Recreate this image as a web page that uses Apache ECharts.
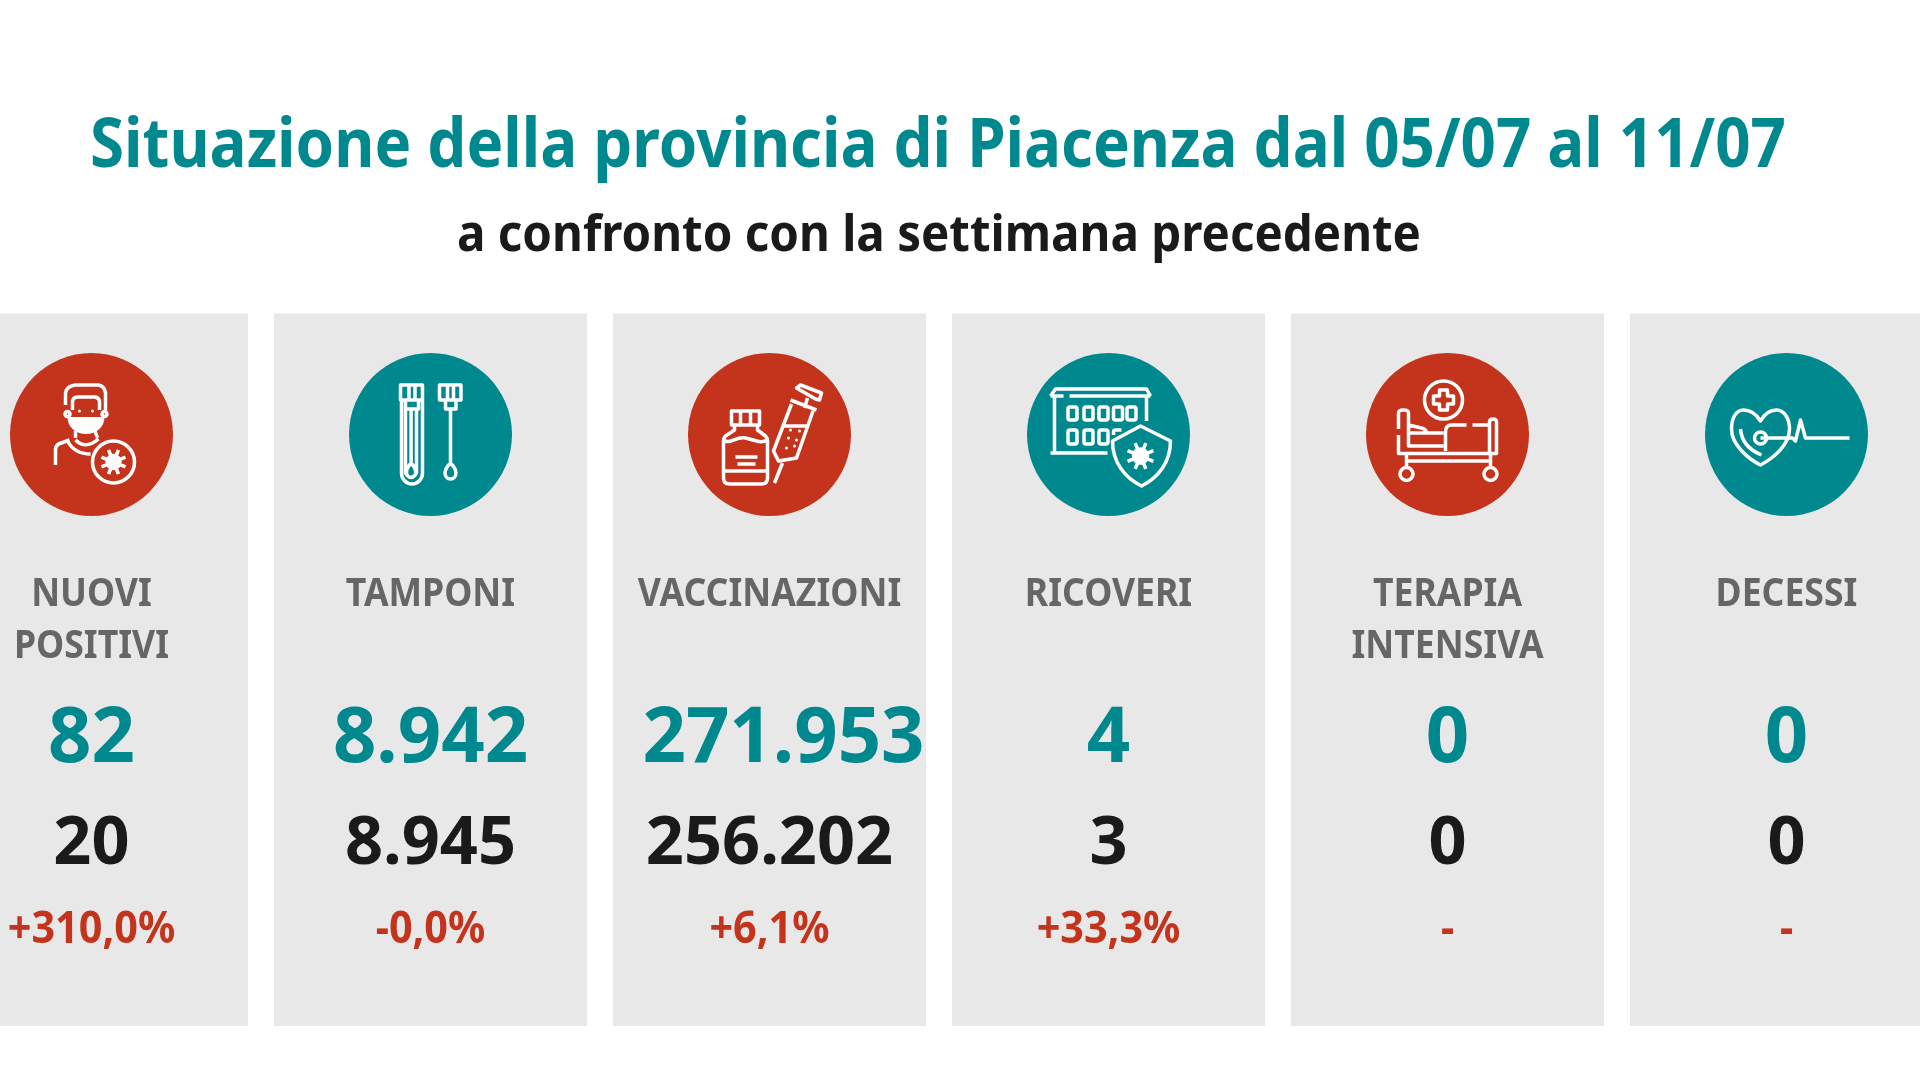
<!DOCTYPE html>
<html>
<head>
<meta charset="utf-8">
<title>Situazione della provincia di Piacenza</title>
<script src="https://cdn.jsdelivr.net/npm/echarts@6/dist/echarts.min.js"></script>
<style>
html,body{margin:0;padding:0;background:#fff;}
#main{width:1920px;height:1080px;}
</style>
</head>
<body>
<div id="main"></div>
<script>
var titleText = 'Situazione della provincia di Piacenza dal 05/07 al 11/07';
var subtitleText = 'a confronto con la settimana precedente';
var categories = ['NUOVI\nPOSITIVI', 'TAMPONI', 'VACCINAZIONI', 'RICOVERI', 'TERAPIA\nINTENSIVA', 'DECESSI'];
var currentWeek = [82, 8942, 271953, 4, 0, 0];
var previousWeek = [20, 8945, 256202, 3, 0, 0];
var changeLabels = ['+310,0%', '-0,0%', '+6,1%', '+33,3%', '-', '-'];

var RED = '#c4341c', TEAL = '#00888f', GREY = '#666666', DARK = '#1a1a1a', PANEL = '#e8e8e8';
var FONT = '"Noto Sans", sans-serif';

// cerchio in formato path svg
function circ(cx, cy, r) {
	return 'M' + (cx - r) + ' ' + cy + 'A' + r + ' ' + r + ' 0 1 0 ' + (cx + r) + ' ' + cy +
		'A' + r + ' ' + r + ' 0 1 0 ' + (cx - r) + ' ' + cy + 'Z';
}
// virus: cerchio con otto punte
function virus(cx, cy, r, len) {
	var s = circ(cx, cy, r);
	for (var k = 0; k < 8; k++) {
		var a = k * Math.PI / 4 + Math.PI / 8;
		s += 'M' + (cx + r * Math.cos(a)) + ' ' + (cy + r * Math.sin(a)) +
			'L' + (cx + len * Math.cos(a)) + ' ' + (cy + len * Math.sin(a));
	}
	return s;
}
function roundBox(x, y, w, h, r) {
	return 'M' + (x + r) + ' ' + y + 'H' + (x + w - r) + 'Q' + (x + w) + ' ' + y + ' ' + (x + w) + ' ' + (y + r) +
		'V' + (y + h - r) + 'Q' + (x + w) + ' ' + (y + h) + ' ' + (x + w - r) + ' ' + (y + h) +
		'H' + (x + r) + 'Q' + x + ' ' + (y + h) + ' ' + x + ' ' + (y + h - r) +
		'V' + (y + r) + 'Q' + x + ' ' + y + ' ' + (x + r) + ' ' + y + 'Z';
}
// i punti zero-length fissano il riquadro 162x162 del path
var BOX = 'M0 0L0 0M162 162L162 162';

var iconStroke = [
	// persona con mascherina
	'M55 52V40Q56 33 65 32H88Q94 33 95 40V57M62 57V48Q63 44 67 44H84Q88 44 89 48V57' +
	circ(57, 61, 2.5) + circ(94, 61, 2.5) +
	'M65 78V85M84.5 78L87 85M57 88Q64 101 80 101M65 87Q75 97 88 86M59 87L48 91Q45 93 45 97V112' +
	circ(103, 109, 21) + virus(103, 109, 6.5, 13),
	// provetta e tampone
	'M51 32H73V47H51ZM59.5 32V47M65.5 32V47M56 47H69V56H56ZM52 47V120A10.5 11 0 0 0 73 120V47' +
	'M56 56V120A6 7 0 0 0 67 120V56M61.6 56V110M61.6 110C58 114 57 117 57 119A4.6 5.5 0 0 0 66.2 119C66.2 117 65 114 61.6 110Z' +
	'M90 32H111.5V47H90ZM98 32V47M104 32V47M96 47H106.5V56H96ZM101 56V110M101 110C97 114 95.5 117 95.5 120A5.5 6 0 0 0 106.5 120C106.5 117 105 114 101 110Z',
	// flacone e siringa
	'M43 58H71V72H43ZM52 58V72M62 58V72M46 72V77L37 83Q35 85 35 88V125Q35 131 41 131H73Q79 131 79 125V88Q79 85 77 83L69 77V72' +
	'M35 87C42 92 47 83 57 85C66 87 72 91 79 87M35 118H79M47 104H69M49 111H67' +
	'M108 35L112 32L133 40L131 47L127 46ZM119 45L116 55M102 47L128 57M103 51L85 98L90 108L108 105L124.5 58' +
	'M94 73L118 73M94 110L86 130',
	// ospedale e scudo
	'M23 43L28 36H119L123 43M23 43H36M42 43H123M27 43V100M119 43V68M23 100H80' +
	roundBox(40.5, 54, 9, 13, 2) + roundBox(56.5, 54, 9, 13, 2) + roundBox(71.5, 54, 9, 13, 2) +
	roundBox(86, 54, 9, 13, 2) + roundBox(99.5, 54, 9, 13, 2) +
	roundBox(40.5, 77, 9, 14, 2) + roundBox(56.5, 77, 9, 14, 2) + roundBox(71.5, 77, 9, 14, 2) +
	'M86 82V79Q86 77 88 77H94' +
	'M113 73L143 88C143 110 130 125 114 133C98 125 85 110 85 88Z' + virus(113, 103, 7, 14),
	// letto di terapia intensiva
	circ(77, 47, 19) + 'M73 37H81V43H87V51H81V57H73V51H67V43H73Z' +
	'M32 76V60Q32 57 37 57Q42 57 42 60V93H77M32 82V100.5H130V69Q130 66 126.5 66Q123 66 123 69V100' +
	'M79 98V79Q79 72 85 72H100M106 72H122M42 80H77M42 72L55 75Q59 76 60 79' +
	'M40 100.5V115M124 100.5V115M40 108H124' + circ(40, 121, 6.5) + circ(124, 121, 6.5),
	// cuore e tracciato
	'M55 68C50 60 44 57 38 57C30 57 26 66 26 76C26 92 43 106 55 112C68 105 84 92 84 76C84 66 79 57 71 57C64 57 59 61 55 68Z' +
	'M35 76C36 89 44 97 56 102' + circ(55, 85, 6) +
	'M55 85H87L90 88L95 67L100 85H144'
];
var iconFill = ['M57 64H94C94 74 86 81 75.5 81C65 81 57 74 57 64Z' + circ(69, 58, 1.5) + circ(82, 58, 1.5) + circ(103, 109, 6.5),
	'', circ(102, 77, 1.5) + circ(111, 78, 1.5) + circ(100, 85, 1.5) + circ(108, 87, 1.5) + circ(98, 95, 1.5) + circ(106, 93, 1.5),
	circ(113, 103, 7), '', ''];

function formatIt(v) {
	return String(v).replace(/\B(?=(\d{3})+(?!\d))/g, '.');
}

function textEl(str, x, y, size, color, scaleX) {
	return {
		type: 'text', x: x, y: y, scaleX: scaleX, silent: true,
		style: {text: str, fill: color, align: 'center', verticalAlign: 'middle',
			font: '700 ' + size + 'px ' + FONT}
	};
}

function renderCard(params, api) {
	var i = api.value(0);
	var cx = api.coord([i, 0])[0];
	var top = api.coord([i, 0])[1];
	var color = i % 2 === 0 ? RED : TEAL;
	var children = [
		{type: 'rect', shape: {x: cx - 156.5, y: top + 313.5, width: 313, height: 712.5}, style: {fill: PANEL}},
		{type: 'circle', shape: {cx: cx, cy: top + 434.5, r: 81.5}, style: {fill: color}},
		{type: 'path', shape: {pathData: BOX + iconStroke[i], x: cx - 81, y: top + 353, width: 162, height: 162},
			style: {fill: 'none', stroke: '#fff', lineWidth: 3.5, lineJoin: 'round', lineCap: 'butt'}}
	];
	if (iconFill[i]) {
		children.push({type: 'path', shape: {pathData: BOX + iconFill[i], x: cx - 81, y: top + 353, width: 162, height: 162},
			style: {fill: '#fff'}});
	}
	var lines = categories[i].split('\n');
	for (var l = 0; l < lines.length; l++) {
		children.push(textEl(lines[l], cx, top + 595 + l * 52, 40, GREY, 0.89));
	}
	// 271.953 sborda a destra nell'originale
	children.push(textEl(formatIt(currentWeek[i]), cx + (currentWeek[i] > 99999 ? 14 : 0), top + 740, 77, TEAL, 0.987));
	children.push(textEl(formatIt(previousWeek[i]), cx, top + 845, 66, DARK, 1.01));
	children.push(textEl(changeLabels[i], cx, top + 930, 44, RED, 0.94));
	return {type: 'group', children: children};
}

var chart = echarts.init(document.getElementById('main'), null, {renderer: 'canvas'});
chart.setOption({
	animation: false,
	backgroundColor: '#fff',
	graphic: [
		{type: 'text', x: 938, y: 148, scaleX: 0.909, silent: true,
			style: {text: titleText, fill: TEAL, align: 'center', verticalAlign: 'middle', font: '700 68px ' + FONT}},
		{type: 'text', x: 939, y: 237, scaleX: 0.95, silent: true,
			style: {text: subtitleText, fill: DARK, align: 'center', verticalAlign: 'middle', font: '700 50px ' + FONT}}
	],
	grid: {left: -78, top: 0, width: 2034, height: 1080, outerBoundsMode: 'none'},
	xAxis: {type: 'category', data: categories, show: false},
	yAxis: {type: 'value', min: 0, max: 1080, inverse: true, show: false},
	tooltip: {show: false},
	series: [{
		type: 'custom',
		clip: false,
		silent: true,
		renderItem: renderCard,
		encode: {x: 0, y: 1},
		data: categories.map(function (c, i) { return [i, 0]; })
	}]
});
</script>
</body>
</html>
